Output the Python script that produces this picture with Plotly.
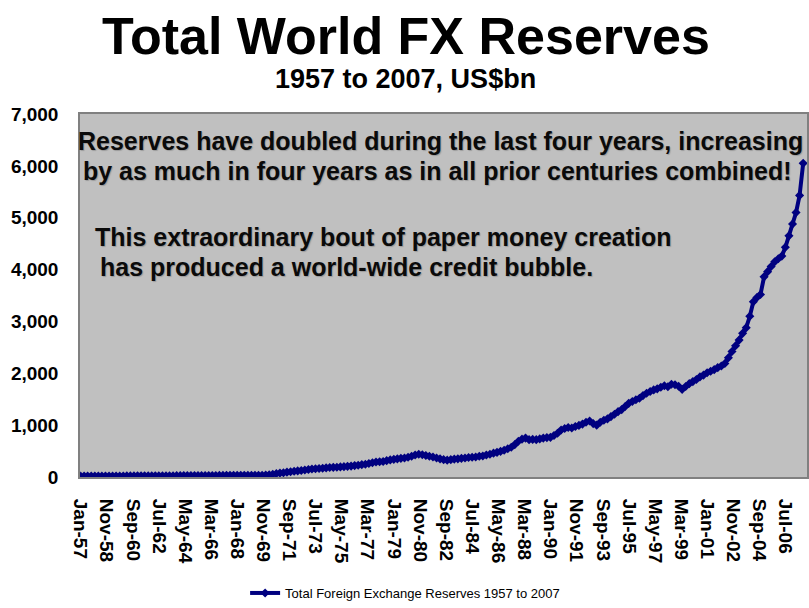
import pandas as pd
import plotly.graph_objects as go

# ---------------- data (quarterly readings, US$bn) ----------------
quarter_starts = pd.date_range("1957-01-01", "2007-10-01", freq="QS")

reserves_bn = [
    17, 17, 18, 18,        # 1957
    18, 19, 19, 19,        # 1958
    19, 20, 20, 20,        # 1959
    20, 21, 21, 21,        # 1960
    22, 22, 22, 23,        # 1961
    23, 23, 24, 24,        # 1962
    24, 25, 25, 26,        # 1963
    26, 27, 27, 28,        # 1964
    28, 28, 29, 29,        # 1965
    29, 30, 30, 31,        # 1966
    31, 32, 32, 32,        # 1967
    33, 33, 33, 34,        # 1968
    34, 34, 35, 35,        # 1969
    38, 44, 52, 65,        # 1970
    75, 82, 94, 102,       # 1971
    110, 118, 126, 134,    # 1972
    145, 155, 158, 163,    # 1973
    170, 176, 182, 186,    # 1974
    188, 195, 200, 205,    # 1975
    210, 220, 228, 238,    # 1976
    245, 260, 275, 290,    # 1977
    295, 300, 315, 330,    # 1978
    340, 350, 360, 365,    # 1979
    380, 400, 425, 440,    # 1980
    430, 415, 400, 385,    # 1981
    365, 350, 335, 325,    # 1982
    335, 345, 350, 360,    # 1983
    365, 375, 380, 385,    # 1984
    400, 405, 425, 440,    # 1985
    460, 475, 495, 515,    # 1986
    545, 575, 625, 690,    # 1987
    730, 750, 720, 725,    # 1988
    720, 735, 750, 760,    # 1989
    765, 800, 845, 905,    # 1990
    935, 955, 945, 975,    # 1991
    995, 1020, 1055, 1080,  # 1992
    1030, 1000, 1055, 1095,  # 1993
    1120, 1165, 1210, 1260,  # 1994
    1300, 1360, 1420, 1455,  # 1995
    1490, 1520, 1570, 1615,  # 1996
    1650, 1680, 1700, 1730,  # 1997
    1760, 1740, 1790, 1780,  # 1998
    1750, 1690, 1745, 1800,  # 1999
    1840, 1880, 1930, 1965,  # 2000
    2010, 2040, 2070, 2110,  # 2001
    2140, 2190, 2300, 2420,  # 2002
    2530, 2640, 2770, 2880,  # 2003
    3100, 3380, 3460, 3520,  # 2004
    3860, 3960, 4060, 4150,  # 2005
    4210, 4260, 4430, 4650,  # 2006
    4880, 5100, 5430, 6050,  # 2007
]

tick_dates = ["1957-01-01", "1958-11-01", "1960-09-01", "1962-07-01", "1964-05-01",
              "1966-03-01", "1968-01-01", "1969-11-01", "1971-09-01", "1973-07-01",
              "1975-05-01", "1977-03-01", "1979-01-01", "1980-11-01", "1982-09-01",
              "1984-07-01", "1986-05-01", "1988-03-01", "1990-01-01", "1991-11-01",
              "1993-09-01", "1995-07-01", "1997-05-01", "1999-03-01", "2001-01-01",
              "2002-11-01", "2004-09-01", "2006-07-01"]
tick_labels = ["Jan-57", "Nov-58", "Sep-60", "Jul-62", "May-64", "Mar-66", "Jan-68",
               "Nov-69", "Sep-71", "Jul-73", "May-75", "Mar-77", "Jan-79", "Nov-80",
               "Sep-82", "Jul-84", "May-86", "Mar-88", "Jan-90", "Nov-91", "Sep-93",
               "Jul-95", "May-97", "Mar-99", "Jan-01", "Nov-02", "Sep-04", "Jul-06"]
y_ticks = [0, 1000, 2000, 3000, 4000, 5000, 6000, 7000]
y_tick_labels = ["0", "1,000", "2,000", "3,000", "4,000", "5,000", "6,000", "7,000"]

series_name = "Total Foreign Exchange Reserves 1957 to 2007"
title_text = "Total World FX Reserves"
subtitle_text = "1957 to 2007, US$bn"
note_lines = [
    "Reserves have doubled during the last four years, increasing",
    "by as much in four years as in all prior centuries combined!",
    "This extraordinary bout of paper money creation",
    "has produced a world-wide credit bubble.",
]

# ---------------- layout helpers ----------------
W, H = 809, 608
L, R, T, B = 80, 0, 114, 129
PW, PH = W - L - R, H - T - B


def px_x(px):
    return (px - L) / PW


def px_y(py):
    return (H - B - py) / PH


NAVY = "#000080"
FONT = "Liberation Sans, Arial, sans-serif"

fig = go.Figure()
fig.add_trace(go.Scatter(
    x=quarter_starts, y=reserves_bn, name=series_name, mode="lines+markers",
    line=dict(color=NAVY, width=4),
    marker=dict(symbol="diamond", size=7, color=NAVY),
))

annotations = [
    dict(text=title_text, x=px_x(407), y=px_y(36), xref="paper", yref="paper",
         showarrow=False, xanchor="center", yanchor="middle",
         font=dict(family=FONT, size=52, color="black", weight="bold")),
    dict(text=subtitle_text, x=px_x(406), y=px_y(79), xref="paper", yref="paper",
         showarrow=False, xanchor="center", yanchor="middle",
         font=dict(family=FONT, size=27, color="black", weight="bold")),
]
note_pos = [(76, 141), (81, 171), (93, 238), (98, 268)]
for txt, (nx, ny) in zip(note_lines, note_pos):
    annotations.append(dict(
        text=txt, x=px_x(nx), y=px_y(ny), xref="paper", yref="paper",
        showarrow=False, xanchor="left", yanchor="middle",
        font=dict(family=FONT, size=25, color="#0a0a0a", weight="bold",
                  shadow="1px 1px 1px #9a9a9a")))

fig.update_layout(
    width=W, height=H,
    margin=dict(l=L, r=R, t=T, b=B, pad=0),
    paper_bgcolor="white",
    plot_bgcolor="#C0C0C0",
    showlegend=True,
    legend=dict(orientation="h", x=px_x(406), y=px_y(596), xanchor="center", yanchor="middle",
                font=dict(family=FONT, size=13, color="black"), bgcolor="rgba(0,0,0,0)"),
    annotations=annotations,
    xaxis=dict(
        type="date", range=["1956-12-17", "2008-01-07"],
        tickmode="array", tickvals=tick_dates, ticktext=tick_labels, tickangle=90,
        ticks="outside", ticklen=16, tickcolor="rgba(0,0,0,0)",
        tickfont=dict(family=FONT, size=19, color="black", weight="bold"),
        showgrid=False, zeroline=False,
        showline=True, linecolor="#808080", linewidth=2, mirror=True,
    ),
    yaxis=dict(
        range=[0, 7000], tickmode="array", tickvals=y_ticks, ticktext=y_tick_labels,
        ticks="outside", ticklen=16, tickcolor="rgba(0,0,0,0)",
        tickfont=dict(family=FONT, size=19, color="black", weight="bold"),
        showgrid=False, zeroline=False,
        showline=True, linecolor="#808080", linewidth=1.5, mirror=True,
    ),
)

fig.write_html("out.html")
